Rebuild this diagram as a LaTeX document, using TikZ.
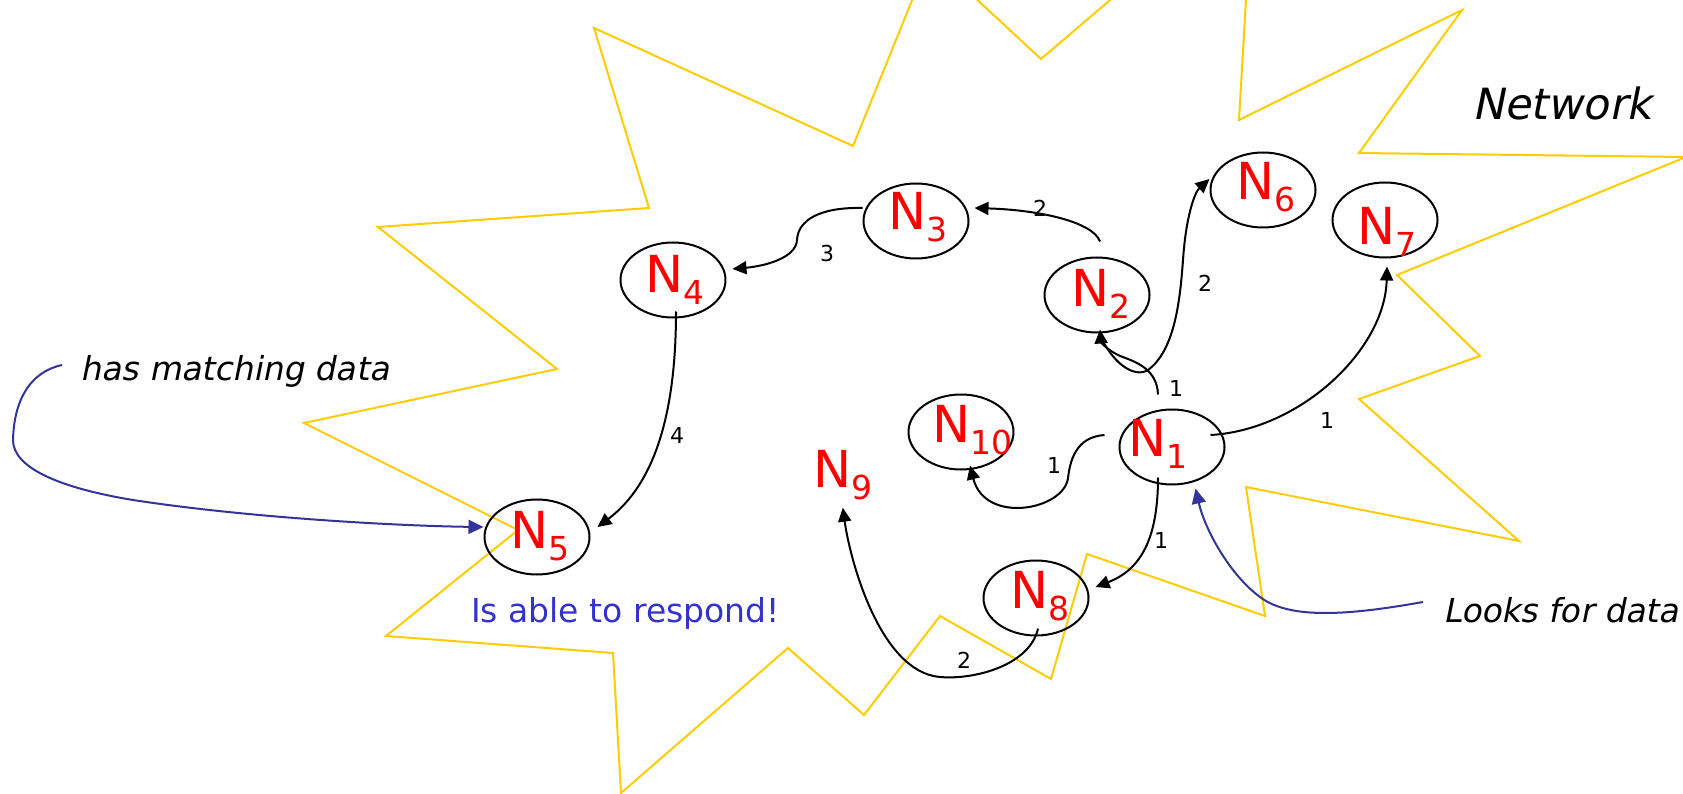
\documentclass[tikz,border=0pt]{standalone}
\usepackage{fontspec}
\setmainfont{DejaVu Sans}[ItalicFont=DejaVu Sans, ItalicFeatures={FakeSlant=0.2}]
\usetikzlibrary{arrows.meta,shapes.geometric}
\definecolor{staryellow}{HTML}{FFCC00}
\definecolor{ptrblue}{HTML}{333399}
\definecolor{txtblue}{HTML}{3333CC}
\newcommand{\nlab}[1]{N\raisebox{-12pt}{\fontsize{33}{33}\selectfont #1}}
\begin{document}
\begin{tikzpicture}[x=1pt,y=-1pt,
  nodeell/.style={ellipse, draw=black, line width=2pt, minimum width=105pt, minimum height=75pt, inner sep=0pt},
  nodetxt/.style={text=red, font=\fontsize{51}{51}\selectfont, inner sep=0pt, anchor=base west},
  edgelab/.style={font=\fontsize{22}{22}\selectfont, inner sep=0pt},
  conn/.style={line width=2pt, -{Triangle[length=14pt,width=13pt]}},
  ptr/.style={line width=2pt, draw=ptrblue, -{Triangle[length=15pt,width=14pt]}},
  starline/.style={draw=staryellow, line width=2pt, line join=miter},
  note/.style={font=\fontsize{33}{33}\selectfont\itshape, inner sep=0pt, anchor=base west}]
\useasboundingbox (0,0) rectangle (1683,794);
% star outline
\begin{scope}
\clip (0,0) rectangle (1683,794);
\draw[starline] (594,28) -- (853,146) -- (930,-44) -- (1041,59) -- (1253,-122) -- (1239,120)
  -- (1462,10) -- (1359,153) -- (1686,157) -- (1397,275) -- (1480,356) -- (1359,399)
  -- (1519,541) -- (1246,487) -- (1265,616) -- (1087,554) -- (1051,679) -- (940,616)
  -- (864,715) -- (788,648) -- (621,793) -- (613,653) -- (386,636) -- (518,530)
  -- (304,423) -- (557,369) -- (378,227) -- (649,208) -- cycle;
\end{scope}
% nodes
\node[nodeell] (n1) at (1172,447) {};
\node[nodeell] (n2) at (1097,295) {};
\node[nodeell] (n3) at (916,221) {};
\node[nodeell] (n4) at (673,280) {};
\node[nodeell] (n5) at (537,537) {};
\node[nodeell] (n6) at (1263,190) {};
\node[nodeell] (n7) at (1385,220) {};
\node[nodeell] (n8) at (1036,598) {};
\node[nodeell] (n10) at (961,432) {};
\node[nodetxt] (t1) at (1128,456) {\nlab{1}};
\node[nodetxt] (t2) at (1071,306) {\nlab{2}};
\node[nodetxt] (t3) at (888,230) {\nlab{3}};
\node[nodetxt] (t4) at (645,292) {\nlab{4}};
\node[nodetxt] (t5) at (510,548) {\nlab{5}};
\node[nodetxt] (t6) at (1236,200) {\nlab{6}};
\node[nodetxt] (t7) at (1357,245) {\nlab{7}};
\node[nodetxt] (t8) at (1010,608) {\nlab{8}};
\node[nodetxt] (n9) at (813,487) {\nlab{9}};
\node[nodetxt] (t10) at (932,442) {\nlab{10}};
% texts
\node[font=\fontsize{43}{43}\selectfont\itshape, inner sep=0pt, anchor=base west] (net) at (1472,120) {Network};
\node[note] (hmd) at (80,380) {has matching data};
\node[note] (lfd) at (1443,622) {Looks for data};
\node[font=\fontsize{33}{33}\selectfont, text=txtblue, inner sep=0pt, anchor=base west] (resp) at (471,622) {Is able to respond!};
% connectors
\draw[conn] ([xshift=-14pt,yshift=14pt]n1.north) .. controls (1157,365) and (1128,360) .. (1118,355)
  .. controls (1106,349) and (1101,342) .. ([xshift=3pt,yshift=4pt]n2.south);
\draw[conn] ([xshift=5pt,yshift=-6pt]n2.south) .. controls (1115,365) and (1135,378) .. (1148,370)
  .. controls (1175,350) and (1180,300) .. (1183,260)
  .. controls (1186,215) and (1195,192) .. ([yshift=11pt]n6.west);
\draw[conn] ([xshift=3pt,yshift=15pt]n2.north) .. controls (1093,222) and (1040,210) .. ([xshift=5pt,yshift=13pt]n3.east);
\draw[conn] ([yshift=13pt]n3.west) .. controls (820,207) and (798,220) .. (797,240)
  .. controls (796,258) and (765,266) .. ([xshift=6pt,yshift=11pt]n4.east);
\draw[conn] ([xshift=3pt,yshift=7pt]n4.south) .. controls (676,400) and (660,480) .. ([xshift=7pt,yshift=10pt]n5.east);
\draw[conn] ([xshift=-15pt,yshift=12pt]n1.east) .. controls (1300,430) and (1385,350) .. ([xshift=2pt,yshift=-8pt]n7.south);
\draw[conn] ([xshift=-14pt,yshift=12pt]n1.west) .. controls (1075,437) and (1070,462) .. (1068,478)
  .. controls (1064,510) and (985,525) .. ([xshift=9pt,yshift=5pt]n10.south);
\draw[conn] ([xshift=-14pt,yshift=8pt]n1.south) .. controls (1158,540) and (1140,570) .. ([xshift=6pt,yshift=11pt]n8.east);
\draw[conn] ([xshift=2pt,yshift=8pt]n8.south) .. controls (1030,665) and (975,680) .. (940,677)
  .. controls (880,672) and (850,560) .. ([yshift=-8pt]n9.south);
% edge labels
\node[edgelab] (l12) at (1176,388) {1};
\node[edgelab] (l26) at (1205,283) {2};
\node[edgelab] (l23) at (1040,208) {2};
\node[edgelab] (l34) at (827,253) {3};
\node[edgelab] (l45) at (677,435) {4};
\node[edgelab] (l17) at (1327,420) {1};
\node[edgelab] (l110) at (1054,465) {1};
\node[edgelab] (l18) at (1161,540) {1};
\node[edgelab] (l89) at (964,660) {2};
% pointers
\coordinate (hmdc) at (62,365);
\coordinate (lfdc) at (1423,602);
\draw[ptr] (hmdc) .. controls (30,372) and (14,400) .. (13,440)
  .. controls (13,468) and (60,488) .. (133,500)
  .. controls (250,518) and (400,526) .. ([yshift=10pt]n5.west);
\draw[ptr] (lfdc) .. controls (1350,615) and (1290,620) .. (1260,597)
  .. controls (1230,575) and (1205,530) .. ([xshift=3pt,yshift=-6pt]n1.-60);
\end{tikzpicture}
\end{document}
